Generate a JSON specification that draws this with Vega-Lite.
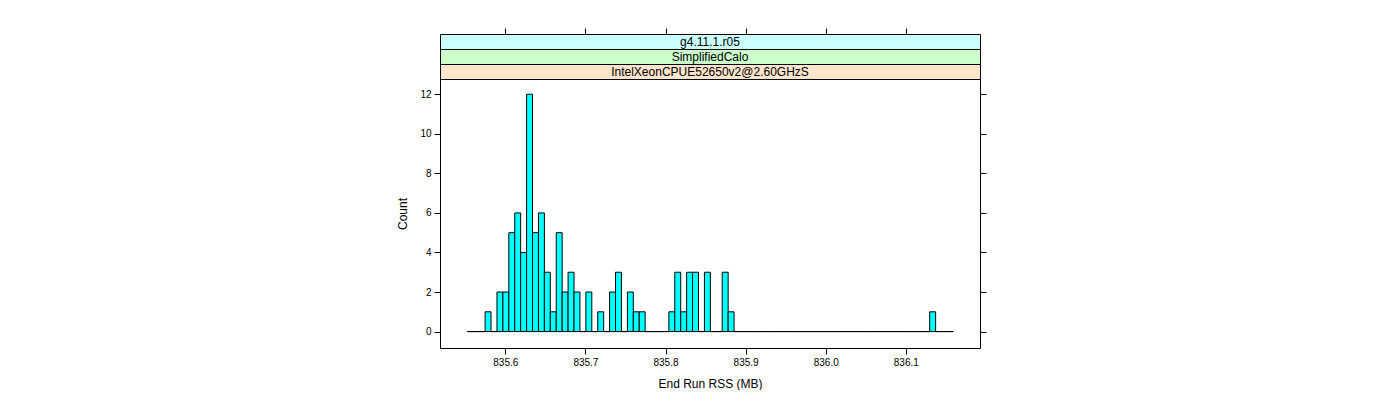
{
  "$schema": "https://vega.github.io/schema/vega-lite/v6.json",
  "padding": {"left": 396, "top": 27, "right": 0, "bottom": 0},
  "background": "white",
  "config": {
    "font": "Liberation Sans",
    "view": {"stroke": "black", "strokeWidth": 1},
    "axis": {"domain": false, "grid": false, "tickColor": "black", "labelColor": "black", "titleColor": "black", "labelFontSize": 10, "titleFontSize": 12, "titleFontWeight": "normal", "tickSize": 6, "labelFont": "Liberation Sans", "titleFont": "Liberation Sans"}
  },
  "spacing": 0,
  "bounds": "flush",
  "vconcat": [
    {"width": 540, "height": 15, "view": {"fill": "#CCFFFF", "stroke": "black"},
     "data": {"values": [{"label": "g4.11.1.r05"}]},
     "mark": {"type": "text", "fontSize": 12, "font": "Liberation Sans", "color": "black"},
     "encoding": {"text": {"field": "label"}}},
    {"width": 540, "height": 15, "view": {"fill": "#CCFFCC", "stroke": "black"},
     "data": {"values": [{"label": "SimplifiedCalo"}]},
     "mark": {"type": "text", "fontSize": 12, "font": "Liberation Sans", "color": "black"},
     "encoding": {"text": {"field": "label"}}},
    {"width": 540, "height": 15, "view": {"fill": "#FFE5CC", "stroke": "black"},
     "data": {"values": [{"label": "IntelXeonCPUE52650v2@2.60GHzS"}]},
     "mark": {"type": "text", "fontSize": 12, "font": "Liberation Sans", "color": "black"},
     "encoding": {"text": {"field": "label"}}},
    {
      "width": 540, "height": 269,
      "data": {"values": [
        {"lo": 835.5526, "hi": 835.5600, "count": 0},
        {"lo": 835.5600, "hi": 835.5674, "count": 0},
        {"lo": 835.5674, "hi": 835.5748, "count": 0},
        {"lo": 835.5748, "hi": 835.5822, "count": 1},
        {"lo": 835.5822, "hi": 835.5896, "count": 0},
        {"lo": 835.5896, "hi": 835.5970, "count": 2},
        {"lo": 835.5970, "hi": 835.6044, "count": 2},
        {"lo": 835.6044, "hi": 835.6118, "count": 5},
        {"lo": 835.6118, "hi": 835.6192, "count": 6},
        {"lo": 835.6192, "hi": 835.6266, "count": 4},
        {"lo": 835.6266, "hi": 835.6340, "count": 12},
        {"lo": 835.6340, "hi": 835.6414, "count": 5},
        {"lo": 835.6414, "hi": 835.6488, "count": 6},
        {"lo": 835.6488, "hi": 835.6562, "count": 3},
        {"lo": 835.6562, "hi": 835.6636, "count": 1},
        {"lo": 835.6636, "hi": 835.6710, "count": 5},
        {"lo": 835.6710, "hi": 835.6784, "count": 2},
        {"lo": 835.6784, "hi": 835.6858, "count": 3},
        {"lo": 835.6858, "hi": 835.6932, "count": 2},
        {"lo": 835.6932, "hi": 835.7006, "count": 0},
        {"lo": 835.7006, "hi": 835.7080, "count": 2},
        {"lo": 835.7080, "hi": 835.7154, "count": 0},
        {"lo": 835.7154, "hi": 835.7228, "count": 1},
        {"lo": 835.7228, "hi": 835.7302, "count": 0},
        {"lo": 835.7302, "hi": 835.7376, "count": 2},
        {"lo": 835.7376, "hi": 835.7450, "count": 3},
        {"lo": 835.7450, "hi": 835.7524, "count": 0},
        {"lo": 835.7524, "hi": 835.7598, "count": 2},
        {"lo": 835.7598, "hi": 835.7672, "count": 1},
        {"lo": 835.7672, "hi": 835.7746, "count": 1},
        {"lo": 835.7746, "hi": 835.7820, "count": 0},
        {"lo": 835.7820, "hi": 835.7894, "count": 0},
        {"lo": 835.7894, "hi": 835.7968, "count": 0},
        {"lo": 835.7968, "hi": 835.8042, "count": 0},
        {"lo": 835.8042, "hi": 835.8116, "count": 1},
        {"lo": 835.8116, "hi": 835.8190, "count": 3},
        {"lo": 835.8190, "hi": 835.8264, "count": 1},
        {"lo": 835.8264, "hi": 835.8338, "count": 3},
        {"lo": 835.8338, "hi": 835.8412, "count": 3},
        {"lo": 835.8412, "hi": 835.8486, "count": 0},
        {"lo": 835.8486, "hi": 835.8560, "count": 3},
        {"lo": 835.8560, "hi": 835.8634, "count": 0},
        {"lo": 835.8634, "hi": 835.8708, "count": 0},
        {"lo": 835.8708, "hi": 835.8782, "count": 3},
        {"lo": 835.8782, "hi": 835.8856, "count": 1},
        {"lo": 835.8856, "hi": 835.8930, "count": 0},
        {"lo": 835.8930, "hi": 835.9004, "count": 0},
        {"lo": 835.9004, "hi": 835.9078, "count": 0},
        {"lo": 835.9078, "hi": 835.9152, "count": 0},
        {"lo": 835.9152, "hi": 835.9226, "count": 0},
        {"lo": 835.9226, "hi": 835.9300, "count": 0},
        {"lo": 835.9300, "hi": 835.9374, "count": 0},
        {"lo": 835.9374, "hi": 835.9448, "count": 0},
        {"lo": 835.9448, "hi": 835.9522, "count": 0},
        {"lo": 835.9522, "hi": 835.9596, "count": 0},
        {"lo": 835.9596, "hi": 835.9670, "count": 0},
        {"lo": 835.9670, "hi": 835.9744, "count": 0},
        {"lo": 835.9744, "hi": 835.9818, "count": 0},
        {"lo": 835.9818, "hi": 835.9892, "count": 0},
        {"lo": 835.9892, "hi": 835.9966, "count": 0},
        {"lo": 835.9966, "hi": 836.0040, "count": 0},
        {"lo": 836.0040, "hi": 836.0114, "count": 0},
        {"lo": 836.0114, "hi": 836.0188, "count": 0},
        {"lo": 836.0188, "hi": 836.0262, "count": 0},
        {"lo": 836.0262, "hi": 836.0336, "count": 0},
        {"lo": 836.0336, "hi": 836.0410, "count": 0},
        {"lo": 836.0410, "hi": 836.0484, "count": 0},
        {"lo": 836.0484, "hi": 836.0558, "count": 0},
        {"lo": 836.0558, "hi": 836.0632, "count": 0},
        {"lo": 836.0632, "hi": 836.0706, "count": 0},
        {"lo": 836.0706, "hi": 836.0780, "count": 0},
        {"lo": 836.0780, "hi": 836.0854, "count": 0},
        {"lo": 836.0854, "hi": 836.0928, "count": 0},
        {"lo": 836.0928, "hi": 836.1002, "count": 0},
        {"lo": 836.1002, "hi": 836.1076, "count": 0},
        {"lo": 836.1076, "hi": 836.1150, "count": 0},
        {"lo": 836.1150, "hi": 836.1224, "count": 0},
        {"lo": 836.1224, "hi": 836.1298, "count": 0},
        {"lo": 836.1298, "hi": 836.1372, "count": 1},
        {"lo": 836.1372, "hi": 836.1446, "count": 0},
        {"lo": 836.1446, "hi": 836.1520, "count": 0},
        {"lo": 836.1520, "hi": 836.1594, "count": 0}
      ]},
      "layer": [
        {
          "mark": {"type": "rect", "fill": "#00FFFF", "stroke": "black", "strokeWidth": 1},
          "encoding": {
            "x": {"field": "lo", "type": "quantitative",
                  "scale": {"domain": [835.5185, 836.1926], "nice": false, "zero": false},
                  "axis": {"orient": "bottom", "values": [835.6, 835.7, 835.8, 835.9, 836.0, 836.1], "format": ".1f", "title": "End Run RSS (MB)", "labelPadding": 3, "titlePadding": 11}},
            "x2": {"field": "hi"},
            "y": {"field": "count", "type": "quantitative",
                  "scale": {"domain": [-0.83, 12.77], "nice": false, "zero": false},
                  "axis": {"orient": "left", "values": [0, 2, 4, 6, 8, 10, 12], "title": "Count", "labelPadding": 3, "titlePadding": 10}},
            "y2": {"datum": 0}
          }
        },
        {
          "mark": {"type": "point", "opacity": 0},
          "encoding": {
            "x": {"field": "lo", "type": "quantitative",
                  "scale": {"domain": [835.5185, 836.1926], "nice": false, "zero": false},
                  "axis": {"orient": "top", "offset": 45, "values": [835.6, 835.7, 835.8, 835.9, 836.0, 836.1], "labels": false, "title": null}},
            "y": {"field": "count", "type": "quantitative",
                  "scale": {"domain": [-0.83, 12.77], "nice": false, "zero": false},
                  "axis": {"orient": "right", "values": [0, 2, 4, 6, 8, 10, 12], "labels": false, "title": null}}
          }
        }
      ],
      "resolve": {"axis": {"x": "independent", "y": "independent"}}
    }
  ]
}
